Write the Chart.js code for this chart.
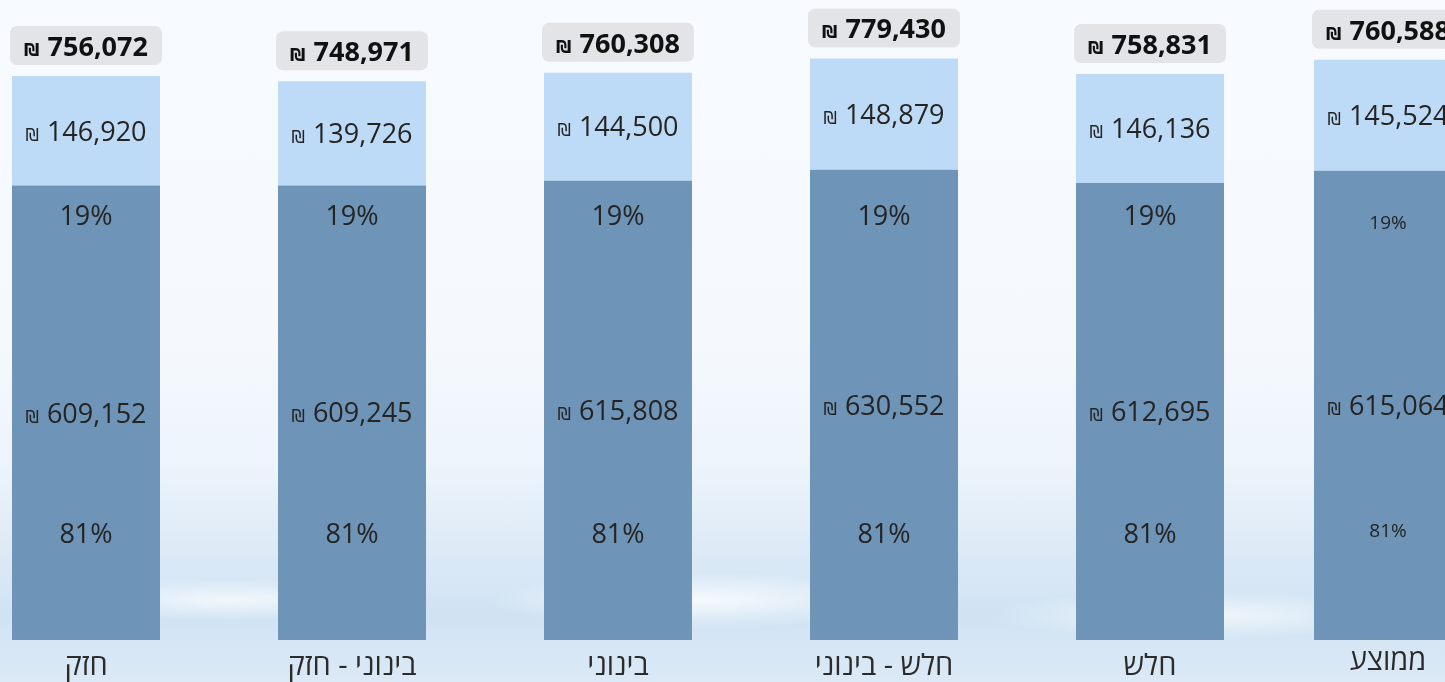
<!DOCTYPE html>
<html><head><meta charset="utf-8">
<script src="https://cdn.jsdelivr.net/npm/chart.js@4.4.1/dist/chart.umd.min.js"></script>
<style>
html,body{margin:0;padding:0;width:1445px;height:682px;overflow:hidden;position:relative;}
body{background:
  radial-gradient(ellipse 300px 40px at 700px 600px, rgba(255,255,255,0.8), rgba(255,255,255,0) 70%),
  radial-gradient(ellipse 260px 30px at 230px 600px, rgba(255,255,255,0.7), rgba(255,255,255,0) 70%),
  radial-gradient(ellipse 300px 35px at 1200px 615px, rgba(255,255,255,0.7), rgba(255,255,255,0) 70%),
  linear-gradient(to bottom, #f7fafe 0%, #f5f9fd 50%, #edf4fb 68%, #dbe9f6 82%, #d0e3f3 90%, #dce9f6 100%);}
#wrapMain{position:absolute;left:-47px;top:0;width:1330px;height:682px;}
#wrapAvg{position:absolute;left:1255px;top:0;width:266px;height:682px;}
</style></head><body>
<div id="wrapMain"><canvas id="cMain"></canvas></div>
<div id="wrapAvg"><canvas id="cAvg"></canvas></div>
<script>
const categories = ['חזק','בינוני - חזק','בינוני','חלש - בינוני','חלש','ממוצע'];
const baseValues = [609152,609245,615808,630552,612695,615064];
const topValues  = [146920,139726,144500,148879,146136,145524];
const totals     = [756072,748971,760308,779430,758831,760588];
const isAverage  = [false,false,false,false,false,true];

const FONT = '"Open Sans", "Noto Sans", "DejaVu Sans", sans-serif';
const DARK = '#6e94b7';
const LIGHT = '#bddbf6';
const TEXT = '#252423';

Chart.defaults.font.family = FONT;

function drawMoney(ctx,cx,cy,txt,size,weight,color){
  ctx.save();
  ctx.fillStyle=color;
  ctx.textBaseline='alphabetic';
  ctx.textAlign='left';
  const nf = `${weight} ${size}px ${FONT}`;
  const sf = `${weight} ${Math.round(size*0.62)}px "DejaVu Sans", sans-serif`;
  ctx.font=nf; const nw=ctx.measureText(txt).width;
  ctx.font=sf; const sw=ctx.measureText('₪').width;
  const gap=size*0.3;
  const total=sw+gap+nw;
  const x=cx-total/2;
  const base=cy+size*0.36;
  ctx.font=sf; ctx.fillText('₪',x,base);
  ctx.font=nf; ctx.fillText(txt,x+sw+gap,base);
  ctx.restore();
}
function drawText(ctx,cx,cy,txt,size,color){
  ctx.save();
  ctx.fillStyle=color;
  ctx.font=`normal ${size}px ${FONT}`;
  ctx.textAlign='center';
  ctx.textBaseline='alphabetic';
  ctx.fillText(txt,cx,cy+size*0.36);
  ctx.restore();
}
const fmt = v => v.toLocaleString('en-US');

function makeChart(canvasId, avg, yMax, pct, tickPad){
  const idx = categories.map((c,i)=>i).filter(i=>isAverage[i]===avg);
  const labels = idx.map(i=>categories[i]);
  const base = idx.map(i=>baseValues[i]);
  const top = idx.map(i=>topValues[i]);
  const tot = idx.map(i=>totals[i]);
  const plugin = {
    id:'barLabels',
    afterDatasetsDraw(chart){
      const ctx = chart.ctx;
      labels.forEach((c,j)=>{
        const d = chart.getDatasetMeta(0).data[j];
        const l = chart.getDatasetMeta(1).data[j];
        const x = d.x;
        const total = base[j]+top[j];
        drawMoney(ctx,x,(l.y+l.base)/2,fmt(top[j]),27,'normal',TEXT);
        drawMoney(ctx,x,(d.y+d.base)/2,fmt(base[j]),27,'normal',TEXT);
        drawText(ctx,x,d.base-pct.topOff,Math.round(top[j]/total*100)+'%',pct.size,TEXT);
        drawText(ctx,x,d.base-pct.baseOff,Math.round(base[j]/total*100)+'%',pct.size,TEXT);
        ctx.save();
        ctx.fillStyle='#e2e4e8';
        ctx.beginPath();
        ctx.roundRect(x-76, l.y-50, 152, 39, 7);
        ctx.fill();
        ctx.restore();
        drawMoney(ctx,x,l.y-30,fmt(tot[j]),27,'bold','#111');
      });
    }
  };
  return new Chart(document.getElementById(canvasId),{
    type:'bar',
    data:{
      labels:labels,
      datasets:[
        {label:'base',data:base,backgroundColor:DARK,stack:'a'},
        {label:'top',data:top,backgroundColor:LIGHT,stack:'a'}
      ]
    },
    options:{
      responsive:true,
      maintainAspectRatio:false,
      animation:false,
      layout:{padding:0},
      datasets:{bar:{barPercentage:148/266,categoryPercentage:1,borderWidth:0}},
      plugins:{legend:{display:false},tooltip:{enabled:false}},
      scales:{
        x:{stacked:true,grid:{display:false,drawTicks:false,tickLength:0},border:{display:false},
           ticks:{color:'#2b2b2b',font:{size:29},padding:tickPad,maxRotation:0,autoSkip:false},
           afterFit:s=>{s.height=42;}},
        y:{stacked:true,display:false,min:0,max:yMax}
      }
    },
    plugins:[plugin]
  });
}

makeChart('cMain', false, 858000, {size:27, topOff:425, baseOff:107}, 9);
makeChart('cAvg', true, 839000, {size:19, topOff:418, baseOff:110}, 4);
</script>
</body></html>
